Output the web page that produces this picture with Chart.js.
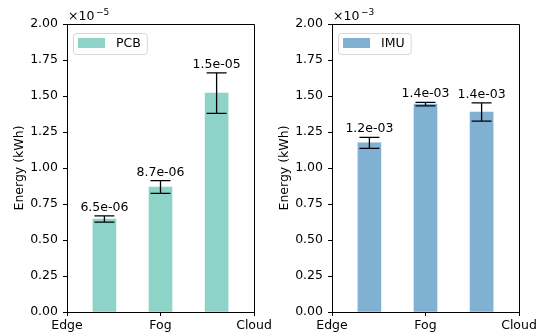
<!DOCTYPE html>
<html>
<head>
<meta charset="utf-8">
<script src="https://cdn.jsdelivr.net/npm/chart.js@4.4.0/dist/chart.umd.min.js"></script>
<style>
  html, body { margin: 0; padding: 0; background: #fff; }
  #wrap { position: relative; width: 540px; height: 332px; overflow: hidden; }
  canvas { position: absolute; top: 0; }
</style>
</head>
<body>
<div id="wrap">
  <canvas id="c1" width="280" height="332" style="left:0px;width:280px;height:332px"></canvas>
  <canvas id="c2" width="270" height="332" style="left:270px;width:270px;height:332px"></canvas>
</div>
<script>
// ---- data ----
const categories = ['Edge', 'Fog', 'Cloud'];
const barPositions = [0.4, 1.0, 1.6];
const yTickLabels = ['0.00', '0.25', '0.50', '0.75', '1.00', '1.25', '1.50', '1.75', '2.00'];
const pcbEnergy = [6.46e-6, 8.68e-6, 1.52e-5];
const pcbError = [0.22e-6, 0.44e-6, 1.41e-6];
const imuEnergy = [1.174e-3, 1.444e-3, 1.389e-3];
const imuError = [0.038e-3, 0.012e-3, 0.063e-3];

const FONT = "'DejaVu Sans', sans-serif";
const FS = 12.5;
Chart.defaults.font.family = FONT;
Chart.defaults.font.size = FS;
Chart.defaults.color = '#000';

function fmtExp(v) {
  return v.toExponential(1).replace(/e([+-])(\d)$/, 'e$10$2');
}

const framePlugin = {
  id: 'frame',
  afterDatasetsDraw(chart) {
    const {ctx, chartArea: a} = chart;
    ctx.save();
    ctx.strokeStyle = '#000';
    ctx.lineWidth = 1;
    ctx.beginPath();
    ctx.moveTo(Math.round(a.left) + 0.5, Math.round(a.top) + 0.5);
    ctx.lineTo(Math.round(a.right) + 0.5, Math.round(a.top) + 0.5);
    ctx.lineTo(Math.round(a.right) + 0.5, Math.round(a.bottom) + 0.5);
    ctx.stroke();
    ctx.restore();
  }
};

const errorPlugin = {
  id: 'errbars',
  afterDatasetsDraw(chart) {
    const {ctx} = chart;
    const ds = chart.data.datasets[0];
    const meta = chart.getDatasetMeta(0);
    const ys = chart.scales.y;
    ctx.save();
    meta.data.forEach((el, i) => {
      const v = ds.data[i].y, e = ds.errors[i];
      const x = el.x;
      const yt = ys.getPixelForValue(v + e);
      const yb = ys.getPixelForValue(v - e);
      ctx.strokeStyle = '#000';
      ctx.lineWidth = 1.3;
      ctx.beginPath();
      ctx.moveTo(x, yt); ctx.lineTo(x, yb);
      ctx.moveTo(x - 10, yt); ctx.lineTo(x + 10, yt);
      ctx.moveTo(x - 10, yb); ctx.lineTo(x + 10, yb);
      ctx.stroke();
      ctx.fillStyle = '#000';
      ctx.font = FS + 'px ' + FONT;
      ctx.textAlign = 'center';
      ctx.textBaseline = 'alphabetic';
      ctx.fillText(fmtExp(v), x, yt - 5);
    });
    ctx.restore();
  }
};

const legendPlugin = {
  id: 'inlegend',
  afterDraw(chart) {
    const {ctx, chartArea: a} = chart;
    const ds = chart.data.datasets[0];
    ctx.save();
    ctx.font = FS + 'px ' + FONT;
    const tw = ctx.measureText(ds.label).width;
    const bx = a.left + 6, by = a.top + 9;
    const bw = 5 + 27 + 11 + tw + 6, bh = 21;
    ctx.beginPath();
    ctx.roundRect(bx + 0.5, by + 0.5, bw, bh, 3);
    ctx.fillStyle = 'rgba(255,255,255,0.8)';
    ctx.fill();
    ctx.strokeStyle = '#d6d6d6';
    ctx.lineWidth = 1;
    ctx.stroke();
    ctx.fillStyle = ds.backgroundColor;
    ctx.fillRect(bx + 5, by + 5, 27, 10);
    ctx.fillStyle = '#000';
    ctx.textAlign = 'left';
    ctx.textBaseline = 'middle';
    ctx.fillText(ds.label, bx + 43, by + 11);
    ctx.restore();
  }
};

const offsetPlugin = {
  id: 'offsettext',
  afterDraw(chart) {
    const {ctx, chartArea: a} = chart;
    const exp = chart.options.plugins.offsettext.exponent;
    ctx.save();
    ctx.fillStyle = '#000';
    ctx.textAlign = 'left';
    ctx.textBaseline = 'alphabetic';
    ctx.font = FS + 'px ' + FONT;
    const base = '\u00d710';
    ctx.fillText(base, a.left + 1, a.top - 4);
    const w = ctx.measureText(base).width;
    ctx.font = '9px ' + FONT;
    ctx.fillText('\u2212' + Math.abs(exp), a.left + 1 + w + 1.5, a.top - 9.5);
    ctx.restore();
  }
};

function makeChart(id, label, values, errors, color, exponent, yWidth, padRight, titlePad) {
  const unit = Math.pow(10, exponent);
  return new Chart(document.getElementById(id), {
    type: 'bar',
    data: {
      datasets: [{
        label: label,
        data: barPositions.map((x, i) => ({x: x, y: values[i]})),
        errors: errors,
        backgroundColor: color,
        borderWidth: 0,
        barThickness: 23
      }]
    },
    options: {
      responsive: false,
      animation: false,
      events: [],
      layout: {padding: {top: 24, right: padRight, bottom: 0, left: 0}},
      plugins: {
        legend: {display: false},
        tooltip: {enabled: false},
        offsettext: {exponent: exponent}
      },
      scales: {
        x: {
          type: 'linear',
          min: 0, max: 2,
          offset: false,
          grid: {display: true, drawOnChartArea: false, offset: false, tickLength: 4, color: '#000', tickWidth: 1},
          border: {display: true, color: '#000', width: 1},
          ticks: {
            stepSize: 1,
            autoSkip: false,
            maxRotation: 0,
            padding: 2,
            font: {family: FONT, size: FS},
            color: '#000',
            callback: (v) => categories[v] !== undefined ? categories[v] : ''
          },
          afterFit: (s) => { s.height = 20; }
        },
        y: {
          type: 'linear',
          min: 0, max: 2 * unit,
          grid: {display: true, drawOnChartArea: false, tickLength: 4, color: '#000', tickWidth: 1},
          border: {display: true, color: '#000', width: 1},
          ticks: {
            stepSize: 0.25 * unit,
            padding: 5,
            font: {family: FONT, size: FS},
            color: '#000',
            callback: (v, i) => yTickLabels[i]
          },
          title: {
            display: true,
            text: 'Energy (kWh)',
            font: {family: FONT, size: FS},
            color: '#000',
            padding: {top: titlePad, bottom: 0}
          },
          afterFit: (s) => { s.width = yWidth; }
        }
      }
    },
    plugins: [framePlugin, errorPlugin, legendPlugin, offsetPlugin]
  });
}

makeChart('c1', 'PCB', pcbEnergy, pcbError, '#8dd3c7', -5, 67, 26, 12);
makeChart('c2', 'IMU', imuEnergy, imuError, '#80b1d3', -3, 62, 21, 7);
</script>
</body>
</html>
